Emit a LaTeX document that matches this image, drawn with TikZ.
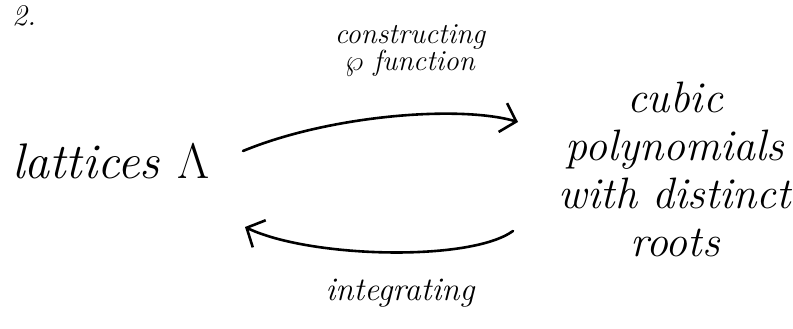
\RequirePackage{fix-cm}
\documentclass[tikz,border=0pt]{standalone}
\usetikzlibrary{arrows.meta}
\begin{document}
\begin{tikzpicture}[x=1pt,y=-1pt,
  lbl/.style={inner sep=0pt,font=\itshape},
  arr/.style={line width=2.6pt,line cap=round,-{Straight Barb[length=14pt,width=30pt,line width=2.6pt]}}]
\useasboundingbox (0,0) rectangle (793,329);
\node[lbl,anchor=north west,font=\itshape\fontsize{30}{30}\selectfont] (num) at (12,5) {2.};
\node[lbl,anchor=base west,font=\itshape\fontsize{50}{50}\selectfont] (A) at (12,178) {lattices $\Lambda$};
\node[lbl,anchor=north,align=center,font=\itshape\fontsize{44}{48}\selectfont] (B) at (675,82) {cubic\\polynomials\\with distinct\\roots};
\node[lbl,anchor=north,align=center,font=\itshape\fontsize{29}{27}\selectfont] (C) at (410,24) {constructing\\$\wp$ function};
\node[lbl,anchor=base,font=\itshape\fontsize{33}{33}\selectfont] (D) at (400,300) {integrating};
\coordinate (t1) at (243,151);
\coordinate (t2) at (518,122);
\coordinate (b1) at (513,231);
\coordinate (b2) at (245,227);
\draw[arr] (t1) .. controls (330,115) and (460,105) .. (t2);
\draw[arr] (b1) .. controls (470,262) and (310,258) .. (b2);
\end{tikzpicture}
\end{document}
